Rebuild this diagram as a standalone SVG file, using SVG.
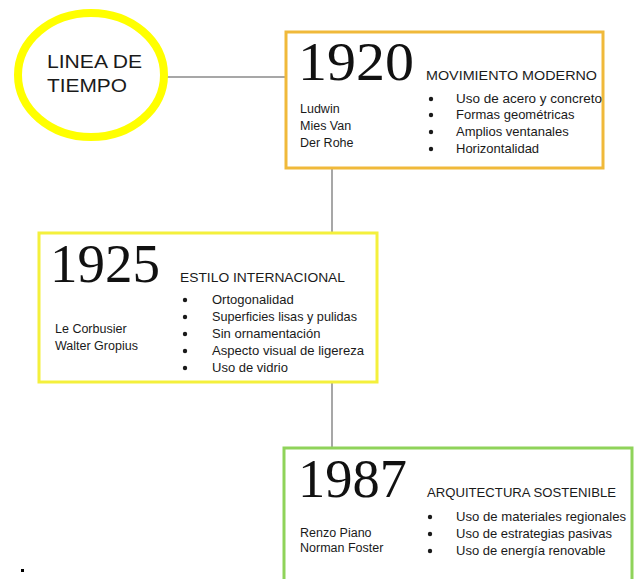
<svg xmlns="http://www.w3.org/2000/svg" width="634" height="579" viewBox="0 0 634 579">
<style>
.t{font-family:"Liberation Sans",Arial,sans-serif;fill:#1a1a1a}
.yr{font-family:"Liberation Serif","Times New Roman",serif;font-size:54px;fill:#111}
.h{font-size:13px}
.s{font-size:13px}
.n{font-size:12.5px}
.c{font-size:19px}
.conn{stroke:#8a8a8a;stroke-width:1.5;fill:none}
</style>
<rect width="634" height="579" fill="#fff"/>
<g id="connectors">
<line class="conn" x1="166" y1="77" x2="285" y2="77"/>
<line class="conn" x1="332" y1="168" x2="332" y2="232"/>
<line class="conn" x1="332" y1="382" x2="332" y2="447"/>
</g>
<g id="title">
<ellipse cx="91" cy="75" rx="73" ry="62" fill="#fff" stroke="#ffff00" stroke-width="8"/>
<text class="t c" x="47" y="68" textLength="95" lengthAdjust="spacingAndGlyphs">LINEA DE</text>
<text class="t c" x="47" y="92" textLength="80" lengthAdjust="spacingAndGlyphs">TIEMPO</text>
</g>
<g id="n1920">
<rect x="286" y="32" width="317" height="136" fill="#fff" stroke="#f0b93a" stroke-width="3"/>
<text class="yr" x="298" y="80" textLength="116" lengthAdjust="spacingAndGlyphs">1920</text>
<text class="t h" x="426" y="80" textLength="171" lengthAdjust="spacingAndGlyphs">MOVIMIENTO MODERNO</text>
<text class="t n" x="300" y="113">Ludwin</text>
<text class="t n" x="300" y="130">Mies Van</text>
<text class="t n" x="300" y="147">Der Rohe</text>
<g class="t s">
<circle cx="431" cy="99" r="2.2"/><text x="456" y="103" textLength="146" lengthAdjust="spacingAndGlyphs">Uso de acero y concreto</text>
<circle cx="431" cy="115" r="2.2"/><text x="456" y="119">Formas geométricas</text>
<circle cx="431" cy="132" r="2.2"/><text x="456" y="136">Amplios ventanales</text>
<circle cx="431" cy="149" r="2.2"/><text x="456" y="153">Horizontalidad</text>
</g>
</g>
<g id="n1925">
<rect x="39" y="233" width="338" height="149" fill="#fff" stroke="#f4f03c" stroke-width="3"/>
<text class="yr" x="50" y="282" textLength="110" lengthAdjust="spacingAndGlyphs">1925</text>
<text class="t h" x="180" y="282" textLength="165" lengthAdjust="spacingAndGlyphs">ESTILO INTERNACIONAL</text>
<text class="t n" x="55" y="333">Le Corbusier</text>
<text class="t n" x="55" y="350">Walter Gropius</text>
<g class="t s">
<circle cx="185" cy="300" r="2.2"/><text x="212" y="304">Ortogonalidad</text>
<circle cx="185" cy="317" r="2.2"/><text x="212" y="321" textLength="145" lengthAdjust="spacingAndGlyphs">Superficies lisas y pulidas</text>
<circle cx="185" cy="334" r="2.2"/><text x="212" y="338">Sin ornamentación</text>
<circle cx="185" cy="351" r="2.2"/><text x="212" y="355" textLength="152" lengthAdjust="spacingAndGlyphs">Aspecto visual de ligereza</text>
<circle cx="185" cy="368" r="2.2"/><text x="212" y="372">Uso de vidrio</text>
</g>
</g>
<g id="n1987">
<rect x="284" y="448" width="348" height="140" fill="#fff" stroke="#8fd35a" stroke-width="3"/>
<text class="yr" x="298" y="497" textLength="109" lengthAdjust="spacingAndGlyphs">1987</text>
<text class="t h" x="427" y="497" textLength="189" lengthAdjust="spacingAndGlyphs">ARQUITECTURA SOSTENIBLE</text>
<text class="t n" x="300" y="537">Renzo Piano</text>
<text class="t n" x="300" y="552">Norman Foster</text>
<g class="t s">
<circle cx="430" cy="517" r="2.2"/><text x="456" y="521" textLength="170" lengthAdjust="spacingAndGlyphs">Uso de materiales regionales</text>
<circle cx="430" cy="534" r="2.2"/><text x="456" y="538">Uso de estrategias pasivas</text>
<circle cx="430" cy="551" r="2.2"/><text x="456" y="555">Uso de energía renovable</text>
</g>
</g>
<rect x="21" y="569" width="3" height="3" fill="#000"/>
</svg>
